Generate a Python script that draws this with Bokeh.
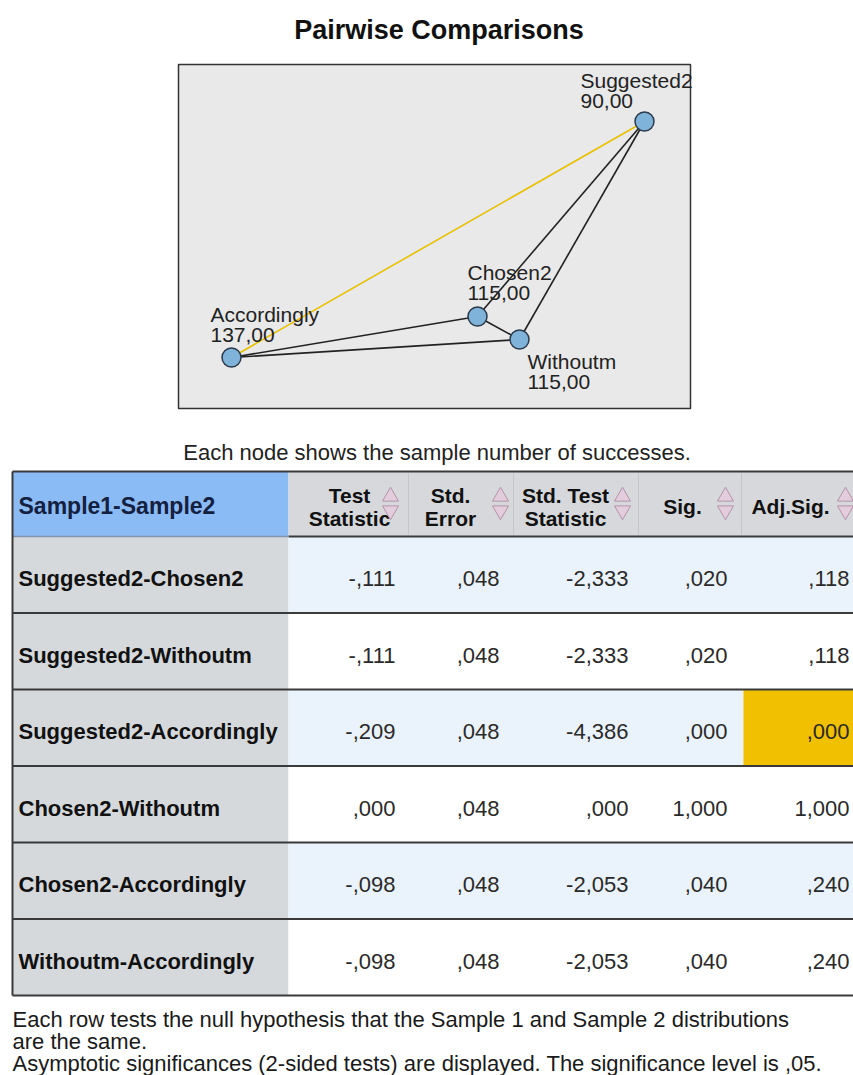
from bokeh.plotting import figure
from bokeh.models import Range1d, ColumnDataSource
from bokeh.core.properties import value
from bokeh.embed import file_html
from bokeh.resources import INLINE

# ---------------- data ----------------
title_text = "Pairwise Comparisons"
caption_text = "Each node shows the sample number of successes."
footer_lines = [
    "Each row tests the null hypothesis that the Sample 1 and Sample 2 distributions",
    "are the same.",
    "Asymptotic significances (2-sided tests) are displayed. The significance level is ,05.",
]

node_names = ["Suggested2", "Chosen2", "Withoutm", "Accordingly"]
node_successes = [90.0, 115.0, 115.0, 137.0]
# network layout coordinates of the nodes (page pixels)
node_x = [644, 477, 519, 231]
node_y = [121, 316, 339, 357]

first_col_header = "Sample1-Sample2"
column_headers = [["Test", "Statistic"], ["Std.", "Error"], ["Std. Test", "Statistic"], ["Sig."], ["Adj.Sig."]]
pairs = [
    "Suggested2-Chosen2",
    "Suggested2-Withoutm",
    "Suggested2-Accordingly",
    "Chosen2-Withoutm",
    "Chosen2-Accordingly",
    "Withoutm-Accordingly",
]
test_statistic = [-0.111, -0.111, -0.209, 0.000, -0.098, -0.098]
std_error = [0.048, 0.048, 0.048, 0.048, 0.048, 0.048]
std_test_statistic = [-2.333, -2.333, -4.386, 0.000, -2.053, -2.053]
sig = [0.020, 0.020, 0.000, 1.000, 0.040, 0.040]
adj_sig = [0.118, 0.118, 0.000, 1.000, 0.240, 0.240]
alpha = 0.05

# ---------------- layout / style ----------------
FONT = value("Liberation Sans")
W, H = 853, 1075
BOX = dict(left=178, right=690, top=64, bottom=408)
label_dx = [-64, -10, 8, -21]
label_dy = [-41, -44, 22, -43]
LINE_GAP = 20

T_LEFT, T_RIGHT, T_TOP, H_BOTTOM, ROW_H = 12, 856, 471, 536, 76.5
col_edges = [12, 288, 408, 513, 638, 741, 856]
num_right = [395, 499, 628, 727, 849]
head_cx = [349, 450, 565, 682, 790]
icon_x = [390, 500, 622, 725, 845]


def spss(v, d=3):
    s = f"{abs(v):.{d}f}"
    if s.startswith("0"):
        s = s[1:]
    s = s.replace(".", ",")
    if v < 0 and abs(v) >= 0.5 * 10 ** (-d):
        s = "-" + s
    return s


p = figure(width=W, height=H, x_range=Range1d(0, W), y_range=Range1d(H, 0),
           output_backend="svg", toolbar_location=None, min_border=0)
p.axis.visible = False
p.grid.visible = False
p.outline_line_color = None
p.background_fill_color = "white"
p.border_fill_color = "white"

# title
p.text(x=[W / 2 + 12], y=[29], text=[title_text], text_font=FONT, text_font_size="27px",
       text_font_style="bold", text_align="center", text_baseline="middle", text_color="#111111")

# network box
p.quad(left=[BOX["left"]], right=[BOX["right"]], top=[BOX["top"]], bottom=[BOX["bottom"]],
       fill_color="#e9e9e9", line_color="#333333", line_width=1.5)

# edges
pos = {n: (x, y) for n, x, y in zip(node_names, node_x, node_y)}
edges = []
for pr, a in zip(pairs, adj_sig):
    s1, s2 = pr.split("-")
    edges.append((a < alpha, s1, s2))
edges.sort(key=lambda e: e[0])
esrc = ColumnDataSource(dict(
    x0=[pos[e[1]][0] for e in edges], y0=[pos[e[1]][1] for e in edges],
    x1=[pos[e[2]][0] for e in edges], y1=[pos[e[2]][1] for e in edges],
    c=["#e8c000" if e[0] else "#222222" for e in edges],
))
p.segment(x0="x0", y0="y0", x1="x1", y1="y1", line_color="c", line_width=1.6, source=esrc)

# nodes
p.scatter(x=node_x, y=node_y, marker="circle", size=19, fill_color="#7fb3da",
          line_color="#2b3b4c", line_width=1.5)

# node labels
lx = [x + dx for x, dx in zip(node_x, label_dx)]
ly1 = [y + dy for y, dy in zip(node_y, label_dy)]
ly2 = [y + LINE_GAP for y in ly1]
p.text(x=lx, y=ly1, text=node_names, text_font=FONT, text_font_size="21px",
       text_baseline="middle", text_align="left", text_color="#222222")
p.text(x=lx, y=ly2, text=[f"{v:.2f}".replace(".", ",") for v in node_successes], text_font=FONT,
       text_font_size="21px", text_baseline="middle", text_align="left", text_color="#222222")

# caption
p.text(x=[W / 2 + 10], y=[452], text=[caption_text], text_font=FONT, text_font_size="22px",
       text_align="center", text_baseline="middle", text_color="#222222")

# ---------------- table ----------------
n = len(pairs)
row_top = [H_BOTTOM + i * ROW_H for i in range(n)]
row_bot = [t + ROW_H for t in row_top]
row_mid = [(t + b) / 2 + 4 for t, b in zip(row_top, row_bot)]

# header backgrounds
p.quad(left=[col_edges[0]], right=[col_edges[1]], top=[T_TOP], bottom=[H_BOTTOM],
       fill_color="#8bbbf5", line_color=None)
p.quad(left=[col_edges[1]], right=[col_edges[-1]], top=[T_TOP], bottom=[H_BOTTOM],
       fill_color="#d6d8db", line_color=None)
# first column backgrounds
p.quad(left=[col_edges[0]] * n, right=[col_edges[1]] * n, top=row_top, bottom=row_bot,
       fill_color="#d6d9dc", line_color=None)
# data row backgrounds
p.quad(left=[col_edges[1]] * n, right=[col_edges[-1]] * n, top=row_top, bottom=row_bot,
       fill_color=["#eaf3fb" if i % 2 == 0 else "#ffffff" for i in range(n)], line_color=None)
# highlighted significant adjusted cells
hi = [i for i in range(n) if adj_sig[i] < alpha]
p.quad(left=[col_edges[5] + 2] * len(hi), right=[col_edges[-1]] * len(hi),
       top=[row_top[i] for i in hi], bottom=[row_bot[i] for i in hi],
       fill_color="#f1c000", line_color=None)

# header separators (faint)
p.segment(x0=col_edges[2:6], y0=[T_TOP + 2] * 4, x1=col_edges[2:6], y1=[H_BOTTOM - 2] * 4,
          line_color="#c2c5c9", line_width=1)

# horizontal rules
hy = [T_TOP] + row_bot
p.segment(x0=[T_LEFT] * len(hy), y0=hy, x1=[T_RIGHT] * len(hy), y1=hy,
          line_color="#3a3a3a", line_width=2)
p.segment(x0=[col_edges[1]], y0=[H_BOTTOM], x1=[T_RIGHT], y1=[H_BOTTOM],
          line_color="#3a3a3a", line_width=2)
p.segment(x0=[T_LEFT], y0=[H_BOTTOM], x1=[col_edges[1]], y1=[H_BOTTOM],
          line_color="#7f93ab", line_width=1.5)
p.segment(x0=[T_LEFT], y0=[T_TOP], x1=[T_LEFT], y1=[row_bot[-1]], line_color="#3a3a3a", line_width=2)

# header texts
p.text(x=[col_edges[0] + 6], y=[(T_TOP + H_BOTTOM) / 2 + 2], text=[first_col_header], text_font=FONT,
       text_font_size="23px", text_font_style="bold", text_baseline="middle", text_color="#14203f")
hx, hy_, ht = [], [], []
for cx, lines in zip(head_cx, column_headers):
    if len(lines) == 2:
        hx += [cx, cx]
        hy_ += [495, 518]
        ht += lines
    else:
        hx.append(cx)
        hy_.append(506)
        ht.append(lines[0])
p.text(x=hx, y=hy_, text=ht, text_font=FONT, text_font_size="21px", text_font_style="bold",
       text_align="center", text_baseline="middle", text_color="#111111")
# sort icons
p.scatter(x=icon_x, y=[496] * 5, marker="triangle", size=16, fill_color="#e3cddd",
          line_color="#b392a9", line_width=1)
p.scatter(x=icon_x, y=[510] * 5, marker="inverted_triangle", size=16, fill_color="#e3cddd",
          line_color="#b392a9", line_width=1)

# row labels
p.text(x=[col_edges[0] + 6] * n, y=row_mid, text=pairs, text_font=FONT, text_font_size="22px",
       text_font_style="bold", text_baseline="middle", text_color="#111111")

# numbers
cols = [test_statistic, std_error, std_test_statistic, sig, adj_sig]
nx, ny, nt = [], [], []
for j, col in enumerate(cols):
    for i, v in enumerate(col):
        nx.append(num_right[j])
        ny.append(row_mid[i])
        nt.append(spss(v))
p.text(x=nx, y=ny, text=nt, text_font=FONT, text_font_size="22px", text_align="right",
       text_baseline="middle", text_color="#2a2a2a")

# footer
p.text(x=[12] * 3, y=[1019, 1041, 1063], text=footer_lines, text_font=FONT, text_font_size="22px",
       text_baseline="middle", text_align="left", text_color="#1a1a1a")

open("out.html", "w").write(file_html(p, INLINE))
